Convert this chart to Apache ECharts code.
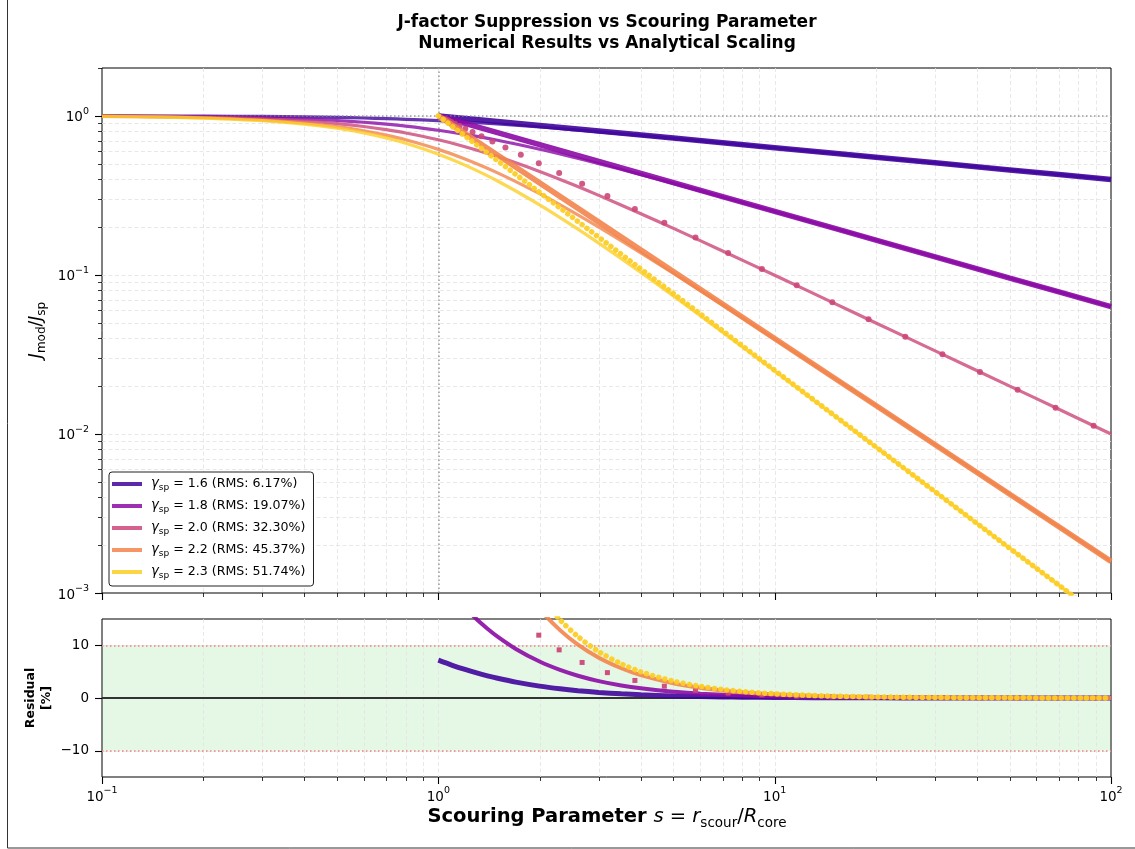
<!DOCTYPE html>
<html><head><meta charset="utf-8">
<script src="https://cdn.jsdelivr.net/npm/echarts@6/dist/echarts.min.js"></script>
<style>html,body{margin:0;padding:0;background:#fff}#c{width:1135px;height:849px}</style>
</head><body><div id="c"></div>
<script>
// ================= DATA =================
const gammas = ['1.6', '1.8', '2.0', '2.2', '2.3'];
const rmsLabels = ['6.17%', '19.07%', '32.30%', '45.37%', '51.74%'];

// smooth curves, s from 0.1 to 100
const sCurve = [0.1, 0.15, 0.2, 0.3, 0.4, 0.5, 0.6, 0.7, 0.8, 1.0, 1.2, 1.5, 2, 2.5, 3, 4, 5, 7, 10, 15, 20, 30, 50, 70, 100];
const curve16 = [0.9990, 0.9978, 0.9961, 0.9914, 0.9853, 0.9779, 0.9697, 0.9609, 0.9517, 0.9330, 0.9147, 0.8888, 0.8513, 0.8203, 0.7943, 0.7533, 0.7219, 0.6762, 0.6303, 0.5815, 0.5491, 0.5064, 0.4573, 0.4276, 0.3981];
const curve18 = [0.9970, 0.9934, 0.9883, 0.9745, 0.9565, 0.9352, 0.9119, 0.8873, 0.8621, 0.8123, 0.7652, 0.7021, 0.6170, 0.5519, 0.5012, 0.4274, 0.3763, 0.3092, 0.2504, 0.1967, 0.1656, 0.1299, 0.0956, 0.0782, 0.0631];
const curve20 = [0.9950, 0.9889, 0.9806, 0.9578, 0.9285, 0.8944, 0.8575, 0.8192, 0.7809, 0.7071, 0.6402, 0.5547, 0.4472, 0.3714, 0.3162, 0.2425, 0.1961, 0.1414, 0.0995, 0.0665, 0.0499, 0.0333, 0.0200, 0.0143, 0.0100];
const curve22 = [0.9931, 0.9845, 0.9729, 0.9415, 0.9013, 0.8554, 0.8063, 0.7564, 0.7073, 0.6156, 0.5356, 0.4382, 0.3241, 0.2499, 0.1995, 0.1376, 0.1022, 0.0647, 0.0395, 0.0225, 0.0151, 0.00855, 0.00418, 0.00261, 0.00158];
const curve23 = [0.9921, 0.9824, 0.9691, 0.9334, 0.8880, 0.8365, 0.7819, 0.7269, 0.6732, 0.5743, 0.4899, 0.3895, 0.2759, 0.2050, 0.1585, 0.1037, 0.0738, 0.0437, 0.0249, 0.0131, 0.00827, 0.00433, 0.00191, 0.00112, 0.00063];

// dense marker bands (power laws), s from 1 to 100
const sPow = [1, 1.5, 2, 3, 5, 7, 10, 15, 20, 30, 50, 70, 100];
const pow16 = [1, 0.9221, 0.8706, 0.8027, 0.7248, 0.6776, 0.6310, 0.5818, 0.5493, 0.5065, 0.4573, 0.4276, 0.3981];
const pow18 = [1, 0.7841, 0.6598, 0.5173, 0.3807, 0.3111, 0.2512, 0.1969, 0.1657, 0.1299, 0.0956, 0.0782, 0.0631];
const pow22 = [1, 0.5669, 0.3789, 0.2148, 0.1051, 0.0656, 0.0398, 0.02257, 0.01509, 0.00855, 0.00418, 0.00261, 0.00158];
const pow23 = [1, 0.5227, 0.3299, 0.1724, 0.0762, 0.0445, 0.0251, 0.01313, 0.00829, 0.00433, 0.00191, 0.00112, 0.00063];

// sparse markers for gamma = 2.0
const pinkS = [1.042, 1.054, 1.071, 1.092, 1.120, 1.156, 1.203, 1.264, 1.344, 1.448, 1.583, 1.759, 1.989, 2.287, 2.676, 3.182, 3.841, 4.699, 5.816, 7.271, 9.164, 11.63, 14.84, 19.02, 24.46, 31.54, 40.77, 52.77, 68.41, 88.77];
const pinkJ = [0.960, 0.949, 0.934, 0.916, 0.893, 0.865, 0.831, 0.791, 0.744, 0.691, 0.632, 0.569, 0.503, 0.437, 0.374, 0.314, 0.260, 0.213, 0.172, 0.1375, 0.1091, 0.0860, 0.0674, 0.0526, 0.0409, 0.0317, 0.0245, 0.0190, 0.0146, 0.01127];

// residuals [%]
const sRes16 = [1, 1.1, 1.2, 1.3, 1.4, 1.5, 1.7, 2, 2.3, 2.6, 3, 3.5, 4, 5, 6, 7, 8, 10, 13, 16, 20, 30, 50, 100];
const res16 = [7.18, 6.21, 5.42, 4.76, 4.21, 3.75, 3.02, 2.26, 1.75, 1.39, 1.06, 0.79, 0.61, 0.39, 0.27, 0.20, 0.155, 0.10, 0.059, 0.039, 0.025, 0.011, 0.004, 0.001];
const res18 = [23.11, 19.81, 17.14, 14.96, 13.16, 11.66, 9.32, 6.92, 5.33, 4.23, 3.21, 2.38, 1.84, 1.18, 0.83, 0.61, 0.47, 0.30, 0.18, 0.12, 0.075, 0.033, 0.012, 0.003];
const sRes22 = [1, 1.5, 1.7, 2, 2.3, 2.6, 3, 3.5, 4, 5, 6, 7, 8, 10, 13, 16, 20, 30, 50, 100];
const res22 = [62.45, 29.36, 23.12, 16.91, 12.89, 10.14, 7.65, 5.65, 4.34, 2.78, 1.94, 1.42, 1.09, 0.70, 0.41, 0.27, 0.175, 0.078, 0.028, 0.007];
const res23 = [74.11, 34.20, 26.84, 19.54, 14.86, 11.67, 8.79, 6.48, 4.97, 3.19, 2.22, 1.63, 1.24, 0.80, 0.47, 0.31, 0.20, 0.089, 0.032, 0.008];
const pinkResS = [1.759, 1.989, 2.287, 2.676, 3.182, 3.841, 4.699, 5.816, 7.271, 9.164, 11.63, 14.84, 19.02, 24.46, 31.54, 40.77, 52.77, 68.41, 88.77];
const pinkRes = [15.03, 11.93, 9.14, 6.75, 4.82, 3.33, 2.24, 1.47, 0.94, 0.594, 0.369, 0.227, 0.138, 0.084, 0.050, 0.030, 0.018, 0.011, 0.006];

// reference levels
const refTop = 1;            // J ratio = 1 and s = 1
const residualBand = [-10, 10];
const residualZero = 0;

// ticks
const xMajorTicks = [0.1, 1, 10, 100];
const xMinorTicks = [0.2, 0.3, 0.4, 0.5, 0.6, 0.7, 0.8, 0.9, 2, 3, 4, 5, 6, 7, 8, 9, 20, 30, 40, 50, 60, 70, 80, 90];
const yMajorTicksTop = [0.001, 0.01, 0.1, 1];
const yMinorTicksTop = [0.002, 0.003, 0.004, 0.005, 0.006, 0.007, 0.008, 0.009, 0.02, 0.03, 0.04, 0.05, 0.06, 0.07, 0.08, 0.09, 0.2, 0.3, 0.4, 0.5, 0.6, 0.7, 0.8, 0.9, 2];
const yTicksRes = [-10, 0, 10];

// ================= STYLE =================
const FONT = '"DejaVu Sans", "Liberation Sans", sans-serif';
const colors = ['#40049c', '#8b0aa5', '#cc4778', '#f2844b', '#fcce25'];
const GRID_COLOR = '#e2e2e2';

function pairs(xs, ys) { return xs.map((x, i) => [x, ys[i]]); }
const legendNames = gammas.map((g, i) => 'γsp = ' + g + ' (RMS: ' + rmsLabels[i] + ')');
const curves = [curve16, curve18, curve20, curve22, curve23];
const pows = [pow16, pow18, null, pow22, pow23];

function supLabel(v) {
  const e = Math.round(Math.log10(v));
  return '{b|10}{s|' + (e < 0 ? '\u2212' + (-e) : e) + '}';
}
const supRich = {
  b: { fontFamily: FONT, fontSize: 13.5, lineHeight: 18, color: '#000', verticalAlign: 'bottom' },
  s: { fontFamily: FONT, fontSize: 9.5, lineHeight: 8, color: '#000', verticalAlign: 'top' }
};

function lineMarks(gi, dim, values, other, kind) {
  return {
    type: 'custom', xAxisIndex: gi, yAxisIndex: gi, silent: true, clip: false,
    z: kind === 'grid' ? 1 : 30, animation: false,
    data: values.map(v => dim === 'x' ? [v, other] : [other, v]),
    renderItem: (params, api) => {
      const cs = params.coordSys;
      let shape;
      const len = kind === 'major' ? 7 : 4;
      if (dim === 'x') {
        const px = Math.round(api.coord([api.value(0), other])[0]) + 0.5;
        if (kind === 'grid' && (px < cs.x + 1.5 || px > cs.x + cs.width - 1.5)) return null;
        shape = kind === 'grid'
          ? { x1: px, y1: cs.y, x2: px, y2: cs.y + cs.height }
          : { x1: px, y1: cs.y + cs.height, x2: px, y2: cs.y + cs.height + len };
      } else {
        const py = Math.round(api.coord([other, api.value(1)])[1]) + 0.5;
        if (kind === 'grid' && (py < cs.y + 1.5 || py > cs.y + cs.height - 1.5)) return null;
        shape = kind === 'grid'
          ? { x1: cs.x, y1: py, x2: cs.x + cs.width, y2: py }
          : { x1: cs.x - len, y1: py, x2: cs.x, y2: py };
      }
      return {
        type: 'line', shape,
        style: kind === 'grid'
          ? { stroke: GRID_COLOR, lineWidth: 0.8, lineDash: [4, 2.5] }
          : { stroke: '#000', lineWidth: kind === 'major' ? 1.1 : 0.8 }
      };
    }
  };
}

const series = [];
// grid lines & ticks
series.push(lineMarks(0, 'x', xMajorTicks.concat(xMinorTicks), 1, 'grid'));
series.push(lineMarks(0, 'y', yMajorTicksTop.concat(yMinorTicksTop), 1, 'grid'));
series.push(lineMarks(1, 'x', xMajorTicks.concat(xMinorTicks), 0, 'grid'));
series.push(lineMarks(1, 'y', yTicksRes, 1, 'grid'));
series.push(lineMarks(0, 'x', xMajorTicks, 1, 'major'));
series.push(lineMarks(0, 'x', xMinorTicks, 1, 'minor'));
series.push(lineMarks(0, 'y', yMajorTicksTop, 1, 'major'));
series.push(lineMarks(0, 'y', yMinorTicksTop, 1, 'minor'));
series.push(lineMarks(1, 'x', xMajorTicks, 0, 'major'));
series.push(lineMarks(1, 'x', xMinorTicks, 0, 'minor'));
series.push(lineMarks(1, 'y', yTicksRes, 1, 'major'));

// reference lines top panel
series.push({
  type: 'line', xAxisIndex: 0, yAxisIndex: 0, data: [], z: 2, silent: true,
  markLine: {
    silent: true, symbol: ['none', 'none'], label: { show: false }, animation: false,
    lineStyle: { color: '#8a8a8a', width: 1.5, type: [1.5, 2.5], opacity: 0.85 },
    data: [{ xAxis: refTop }, { yAxis: refTop }]
  }
});
// residual band + lines
series.push({
  type: 'line', xAxisIndex: 1, yAxisIndex: 1, data: [], z: 2, silent: true,
  markArea: {
    silent: true, animation: false,
    itemStyle: { color: 'rgba(40,200,40,0.12)' },
    data: [[{ yAxis: residualBand[0] }, { yAxis: residualBand[1] }]]
  },
  markLine: {
    silent: true, symbol: ['none', 'none'], label: { show: false }, animation: false,
    data: [
      { yAxis: residualBand[0], lineStyle: { color: '#f08080', width: 1.5, type: [1.5, 2.5] } },
      { yAxis: residualBand[1], lineStyle: { color: '#f08080', width: 1.5, type: [1.5, 2.5] } },
      { yAxis: residualZero, lineStyle: { color: '#333', width: 2, type: 'solid' } }
    ]
  }
});

for (let i = 0; i < 5; i++) {
  const c = colors[i];
  series.push({
    type: 'line', name: legendNames[i], xAxisIndex: 0, yAxisIndex: 0,
    data: pairs(sCurve, curves[i]), smooth: 0.3, showSymbol: false, symbol: 'none',
    lineStyle: { color: c, width: 3.2, opacity: 0.8 }, itemStyle: { color: c },
    z: 3 + 2 * i, silent: true, animation: false
  });
  if (i === 2) {
    series.push({
      type: 'scatter', xAxisIndex: 0, yAxisIndex: 0, data: pairs(pinkS, pinkJ),
      symbol: 'circle', symbolSize: 6, itemStyle: { color: c, opacity: 0.9 },
      z: 4 + 2 * i, silent: true, animation: false
    });
  } else {
    series.push({
      type: 'line', xAxisIndex: 0, yAxisIndex: 0, data: pairs(sPow, pows[i]),
      showSymbol: false, symbol: 'none',
      lineStyle: i === 4
        ? { color: c, width: 5.5, opacity: 0.95, type: [0.01, 6], cap: 'round' }
        : { color: c, width: 5.5, opacity: 0.9 },
      z: 4 + 2 * i, silent: true, animation: false
    });
  }
}
// residual series
const resDefs = [
  { s: sRes16, v: res16, w: 5 },
  { s: sRes16, v: res18, w: 4 },
  null,
  { s: sRes22, v: res22, w: 4 },
  { s: sRes22, v: res23, w: 5.5, dotted: true }
];
for (let i = 0; i < 5; i++) {
  const c = colors[i];
  if (i === 2) {
    series.push({
      type: 'scatter', xAxisIndex: 1, yAxisIndex: 1, data: pairs(pinkResS, pinkRes),
      symbol: 'rect', symbolSize: 5, itemStyle: { color: c, opacity: 0.95 },
      z: 10 + i, silent: true, animation: false
    });
  } else {
    const d = resDefs[i];
    series.push({
      type: 'line', xAxisIndex: 1, yAxisIndex: 1, data: pairs(d.s, d.v),
      smooth: 0.3, showSymbol: false, symbol: 'none',
      lineStyle: d.dotted
        ? { color: c, width: d.w, opacity: 0.95, type: [0.01, 6.3], cap: 'round' }
        : { color: c, width: d.w, opacity: 0.9 },
      z: 10 + i, silent: true, animation: false
    });
  }
}

const logAxisCommon = {
  type: 'log', logBase: 10,
  axisLine: { show: false }, axisTick: { show: false }, splitLine: { show: false }, minorTick: { show: false }
};

const option = {
  backgroundColor: '#fff',
  animation: false,
  grid: [
    { left: 102, top: 68, width: 1009, height: 525, show: true, borderColor: '#000', borderWidth: 1, backgroundColor: 'transparent' },
    { left: 102, top: 619, width: 1009, height: 158, show: true, borderColor: '#000', borderWidth: 1, backgroundColor: 'transparent' }
  ],
  xAxis: [
    Object.assign({}, logAxisCommon, { gridIndex: 0, min: 0.1, max: 100, axisLabel: { show: false } }),
    Object.assign({}, logAxisCommon, {
      gridIndex: 1, min: 0.1, max: 100,
      axisLabel: { show: true, margin: 9, customValues: xMajorTicks, formatter: supLabel, rich: supRich }
    })
  ],
  yAxis: [
    Object.assign({}, logAxisCommon, {
      gridIndex: 0, min: 0.001, max: 2,
      axisLabel: { show: true, margin: 13, customValues: yMajorTicksTop, formatter: supLabel, rich: supRich }
    }),
    {
      type: 'value', gridIndex: 1, min: -15, max: 15,
      axisLine: { show: false }, axisTick: { show: false }, splitLine: { show: false },
      axisLabel: { show: true, margin: 13, customValues: yTicksRes, fontFamily: FONT, fontSize: 13.5, color: '#000',
        formatter: v => (v < 0 ? '\u2212' + (-v) : '' + v) }
    }
  ],
  legend: {
    show: true, left: 109, top: 472, orient: 'vertical', z: 40,
    data: legendNames, icon: 'rect', itemWidth: 30, itemHeight: 4, itemGap: 7,
    padding: [5.5, 8, 5.5, 3], backgroundColor: '#fff', borderColor: '#222', borderWidth: 1, borderRadius: 3,
    itemStyle: { opacity: 0.85 },
    textStyle: {
      fontFamily: FONT, fontSize: 12.6, color: '#000', padding: [0, 0, 0, 4],
      rich: {
        g: { fontFamily: FONT, fontSize: 13.2, fontStyle: 'italic', lineHeight: 17, color: '#000' },
        s: { fontFamily: FONT, fontSize: 9, lineHeight: 9, verticalAlign: 'bottom', color: '#000' },
        t: { fontFamily: FONT, fontSize: 12.6, lineHeight: 17, color: '#000' }
      }
    },
    formatter: name => {
      const i = legendNames.indexOf(name);
      return '{g|γ}{s|sp}{t| = ' + gammas[i] + ' (RMS: ' + rmsLabels[i] + ')}';
    }
  },
  graphic: [
    { type: 'rect', silent: true, z: -10, shape: { x: 7.5, y: -3, width: 1140, height: 851 },
      style: { fill: 'none', stroke: '#333', lineWidth: 1 } },
    { type: 'text', x: 607, y: 33, silent: true,
      style: { text: 'J-factor Suppression vs Scouring Parameter\nNumerical Results vs Analytical Scaling',
        fontFamily: FONT, fontSize: 17, fontWeight: 'bold', lineHeight: 20.5, fill: '#000', align: 'center', verticalAlign: 'middle' } },
    { type: 'text', x: 37, y: 330, rotation: Math.PI / 2, silent: true,
      style: { text: '{j|J}{sub|mod}{n|/}{j|J}{sub|sp}', align: 'center', verticalAlign: 'middle', fill: '#000',
        rich: {
          j: { fontFamily: FONT, fontSize: 17, fontStyle: 'italic', lineHeight: 22 },
          n: { fontFamily: FONT, fontSize: 17, lineHeight: 22 },
          sub: { fontFamily: FONT, fontSize: 12, lineHeight: 12, verticalAlign: 'bottom' }
        } } },
    { type: 'text', x: 39, y: 698, rotation: Math.PI / 2, silent: true,
      style: { text: 'Residual\n[%]', fontFamily: FONT, fontSize: 12.5, fontWeight: 'bold', lineHeight: 16,
        fill: '#000', align: 'center', verticalAlign: 'middle' } },
    { type: 'text', x: 607, y: 817, silent: true,
      style: { text: '{b|Scouring Parameter }{i|s}{m| = }{i|r}{sub|scour}{m|/}{i|R}{sub|core}', align: 'center', verticalAlign: 'middle', fill: '#000',
        rich: {
          b: { fontFamily: FONT, fontSize: 19.5, fontWeight: 'bold', lineHeight: 26 },
          i: { fontFamily: FONT, fontSize: 19.5, fontStyle: 'italic', lineHeight: 26 },
          m: { fontFamily: FONT, fontSize: 19.5, lineHeight: 26 },
          sub: { fontFamily: FONT, fontSize: 13.5, lineHeight: 15, verticalAlign: 'bottom' }
        } } }
  ],
  series
};

const chart = echarts.init(document.getElementById('c'), null, { renderer: 'canvas' });
chart.setOption(option);
</script>
</body></html>
